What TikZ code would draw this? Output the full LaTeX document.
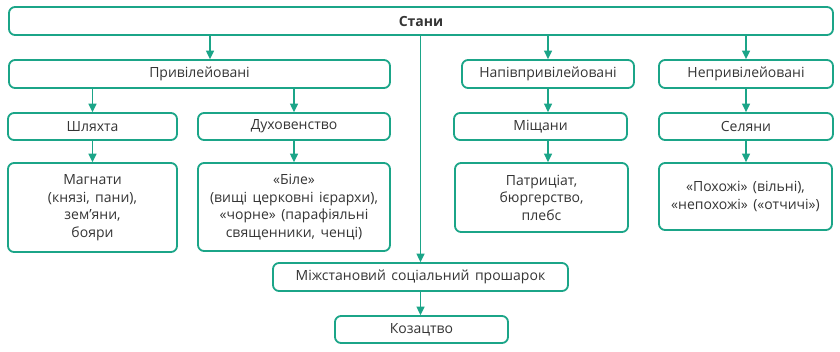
\documentclass[tikz,border=0pt]{standalone}
\usepackage{fontspec}
\setmainfont[WordSpace=1.5]{Open Sans}
\usetikzlibrary{arrows.meta,positioning}
\definecolor{StanClr}{HTML}{1BA588}
\definecolor{TextClr}{HTML}{353535}
\newcommand{\StanFont}{\fontsize{14}{17.5}\selectfont}
\begin{document}
\begin{tikzpicture}[x=1pt,y=-1pt,
  stanbox/.style={draw=StanClr,line width=1.8pt,rounded corners=6pt,fill=white,
    text=TextClr,align=center,inner sep=0pt,font=\StanFont,minimum height=28},
  arr/.style={draw=StanClr,line width=1.4pt,-{Triangle[width=8pt,length=8.5pt]}}]
\useasboundingbox (0,0) rectangle (840,351);
% top level
\node[stanbox,minimum width=824,font=\StanFont\bfseries] (S) at (421,21) {Стани};
% groups
\node[stanbox,minimum width=381] (P) at (199.5,74) {Привілейовані};
\node[stanbox,minimum width=172] (NP) at (548,74) {Напівпривілейовані};
\node[stanbox,minimum width=174] (N) at (746,74) {Непривілейовані};
% estates
\node[stanbox,minimum width=169,minimum height=27] (Sh) at (92.5,126.5) {Шляхта};
\node[stanbox,minimum width=192,minimum height=27] (D) at (294,126.5) {Духовенство};
\node[stanbox,minimum width=173,minimum height=27] (M) at (540.5,126.5) {Міщани};
\node[stanbox,minimum width=174,minimum height=27] (Se) at (746,126.5) {Селяни};
% details
\node[stanbox,minimum width=169,minimum height=89] (Mag) at (92.5,207.5)
  {Магнати\\(князі, пани),\\зем’яни,\\бояри};
\node[stanbox,minimum width=192,minimum height=88] (Bil) at (294,207)
  {«Біле»\\(вищі церковні ієрархи),\\«чорне» (парафіяльні\\священники, ченці)};
\node[stanbox,minimum width=173,minimum height=69] (Pat) at (541.5,197.5)
  {Патриціат,\\бюргерство,\\плебс};
\node[stanbox,minimum width=173,minimum height=67] (Pox) at (745.5,196.5)
  {«Похожі» (вільні),\\«непохожі» («отчичі»)};
% between estates
\node[stanbox,minimum width=295] (Mizh) at (420.5,277) {Міжстановий соціальний прошарок};
\node[stanbox,minimum width=173,minimum height=27] (K) at (421.5,329.5) {Козацтво};
% connectors
\draw[arr] ([xshift=10.5pt]P.north |- S.south) -- ([xshift=10.5pt]P.north);
\draw[arr] (NP.north |- S.south) -- (NP.north);
\draw[arr] (N.north |- S.south) -- (N.north);
\draw[arr] (Sh.north |- P.south) -- (Sh.north);
\draw[arr] (D.north |- P.south) -- (D.north);
\draw[arr] ([xshift=7.5pt]M.north |- NP.south) -- ([xshift=7.5pt]M.north);
\draw[arr] (Se.north |- N.south) -- (Se.north);
\draw[arr] (Sh.south) -- (Sh.south |- Mag.north);
\draw[arr] (D.south) -- (D.south |- Bil.north);
\draw[arr] ([xshift=7.5pt]M.south) -- ([xshift=7.5pt]M.south |- Pat.north);
\draw[arr] (Se.south) -- (Se.south |- Pox.north);
\draw[arr] (Mizh.north |- S.south) -- (Mizh.north);
\draw[arr] (Mizh.south) -- (Mizh.south |- K.north);
\end{tikzpicture}
\end{document}
